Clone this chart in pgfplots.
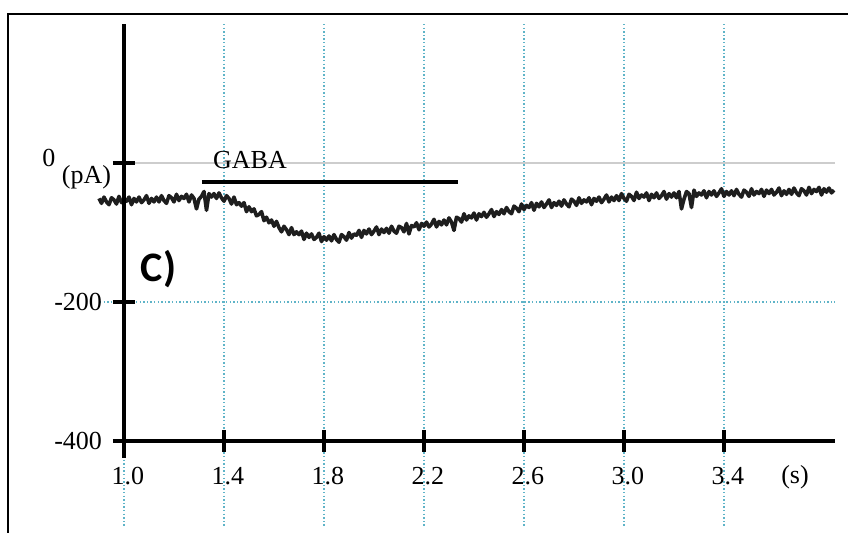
\documentclass[border=0pt]{standalone}
\usepackage{pgfplots}
\pgfplotsset{compat=1.18}
\usepackage{fontspec}
\setmainfont{Liberation Serif}
\newfontfamily\calibri{Carlito}
\definecolor{gridc}{RGB}{95,180,200}
\definecolor{zeroc}{RGB}{205,205,205}
\definecolor{tracec}{RGB}{30,30,30}
\begin{document}
\begin{tikzpicture}
\useasboundingbox (-62pt,-45.5pt) rectangle (362pt,220.5pt);
\draw[line width=1.3pt] (-58pt,-46pt) -- (-58pt,213.5pt) -- (363pt,213.5pt);
\begin{axis}[
  at={(0,0)}, anchor=south west,
  scale only axis, width=355.5pt, height=208.5pt,
  xmin=1, xmax=3.844, ymin=-400, ymax=200,
  axis x line=bottom, axis y line=left,
  axis line style={-, line width=2pt},
  axis on top,
  clip=false,
  xtick={1,1.4,1.8,2.2,2.6,3,3.4},
  xticklabels={1.0,1.4,1.8,2.2,2.6,3.0,3.4},
  ytick={-400,-200,0}, yticklabels={-400,-200,{}},
  tick align=center, major tick length=11pt,
  tick style={line width=2pt,black},
  ticklabel style={font=\fontsize{13}{15}\selectfont},
  xticklabel style={yshift=-4pt,xshift=2pt},
  yticklabel style={xshift=-2pt},
]
\pgfplotsinvokeforeach{1,1.4,1.8,2.2,2.6,3,3.4}{
  \draw[gridc, line width=0.7pt, dash pattern=on 0.7pt off 1.1pt] (axis cs:#1,200) -- (axis cs:#1,-524);
}
\draw[zeroc, line width=0.8pt] (axis cs:1,0) -- (axis cs:3.844,0);
\draw[gridc, line width=0.7pt, dash pattern=on 0.7pt off 1.1pt] (axis cs:0.904,-200) -- (axis cs:3.844,-200);

% GABA application bar
\addplot[black, line width=2pt] coordinates {(1.312,-27) (2.336,-27)};

% current trace
\addplot[tracec, line width=1.8pt, line join=round] coordinates {
(0.90,-51) (0.91,-58) (0.92,-49) (0.93,-56) (0.94,-60) (0.95,-50) (0.96,-53) (0.97,-59) (0.98,-48) (0.99,-57)
(1.00,-52) (1.01,-55) (1.02,-49) (1.03,-60) (1.04,-51) (1.05,-56) (1.06,-49) (1.07,-57) (1.08,-53) (1.09,-47)
(1.10,-58) (1.11,-51) (1.12,-56) (1.13,-49) (1.14,-56) (1.15,-47) (1.16,-54) (1.17,-58) (1.18,-47) (1.19,-50)
(1.20,-56) (1.21,-45) (1.22,-54) (1.23,-48) (1.24,-51) (1.25,-45) (1.26,-56) (1.27,-46) (1.28,-51) (1.29,-66)
(1.30,-52) (1.31,-48) (1.32,-41) (1.33,-68) (1.34,-44) (1.35,-49) (1.36,-44) (1.37,-51) (1.38,-43) (1.39,-50)
(1.40,-55) (1.41,-47) (1.42,-51) (1.43,-59) (1.44,-49) (1.45,-60) (1.46,-57) (1.47,-62) (1.48,-57) (1.49,-70)
(1.50,-63) (1.51,-70) (1.52,-66) (1.53,-76) (1.54,-74) (1.55,-70) (1.56,-83) (1.57,-78) (1.58,-86) (1.59,-82)
(1.60,-91) (1.61,-84) (1.62,-93) (1.63,-99) (1.64,-91) (1.65,-96) (1.66,-103) (1.67,-93) (1.68,-103) (1.69,-99)
(1.70,-103) (1.71,-98) (1.72,-110) (1.73,-101) (1.74,-107) (1.75,-102) (1.76,-110) (1.77,-107) (1.78,-101) (1.79,-113)
(1.80,-106) (1.81,-111) (1.82,-105) (1.83,-112) (1.84,-103) (1.85,-110) (1.86,-114) (1.87,-103) (1.88,-106) (1.89,-111)
(1.90,-100) (1.91,-108) (1.92,-102) (1.93,-104) (1.94,-97) (1.95,-107) (1.96,-97) (1.97,-102) (1.98,-95) (1.99,-103)
(2.00,-98) (2.01,-92) (2.02,-103) (2.03,-95) (2.04,-100) (2.05,-94) (2.06,-101) (2.07,-91) (2.08,-98) (2.09,-101)
(2.10,-91) (2.11,-93) (2.12,-99) (2.13,-87) (2.14,-102) (2.15,-90) (2.16,-92) (2.17,-86) (2.18,-96) (2.19,-87)
(2.20,-91) (2.21,-85) (2.22,-92) (2.23,-88) (2.24,-81) (2.25,-92) (2.26,-84) (2.27,-89) (2.28,-82) (2.29,-89)
(2.30,-79) (2.31,-85) (2.32,-97) (2.33,-78) (2.34,-80) (2.35,-85) (2.36,-73) (2.37,-82) (2.38,-76) (2.39,-79)
(2.40,-72) (2.41,-82) (2.42,-73) (2.43,-77) (2.44,-71) (2.45,-78) (2.46,-73) (2.47,-67) (2.48,-77) (2.49,-70)
(2.50,-74) (2.51,-67) (2.52,-73) (2.53,-64) (2.54,-70) (2.55,-73) (2.56,-62) (2.57,-65) (2.58,-70) (2.59,-59)
(2.60,-67) (2.61,-61) (2.62,-64) (2.63,-57) (2.64,-68) (2.65,-58) (2.66,-63) (2.67,-56) (2.68,-64) (2.69,-59)
(2.70,-53) (2.71,-64) (2.72,-57) (2.73,-61) (2.74,-55) (2.75,-62) (2.76,-53) (2.77,-59) (2.78,-63) (2.79,-52)
(2.80,-55) (2.81,-61) (2.82,-50) (2.83,-58) (2.84,-53) (2.85,-56) (2.86,-50) (2.87,-60) (2.88,-51) (2.89,-55)
(2.90,-49) (2.91,-57) (2.92,-52) (2.93,-46) (2.94,-56) (2.95,-49) (2.96,-54) (2.97,-47) (2.98,-54) (2.99,-44)
(3.00,-51) (3.01,-55) (3.02,-45) (3.03,-48) (3.04,-54) (3.05,-42) (3.06,-51) (3.07,-46) (3.08,-49) (3.09,-43)
(3.10,-54) (3.11,-45) (3.12,-50) (3.13,-43) (3.14,-51) (3.15,-47) (3.16,-41) (3.17,-52) (3.18,-44) (3.19,-49)
(3.20,-43) (3.21,-50) (3.22,-41) (3.23,-66) (3.24,-52) (3.25,-41) (3.26,-44) (3.27,-64) (3.28,-39) (3.29,-48)
(3.30,-43) (3.31,-46) (3.32,-40) (3.33,-50) (3.34,-41) (3.35,-46) (3.36,-40) (3.37,-48) (3.38,-43) (3.39,-37)
(3.40,-48) (3.41,-41) (3.42,-46) (3.43,-40) (3.44,-47) (3.45,-38) (3.46,-45) (3.47,-49) (3.48,-39) (3.49,-42)
(3.50,-48) (3.51,-37) (3.52,-46) (3.53,-41) (3.54,-44) (3.55,-38) (3.56,-48) (3.57,-39) (3.58,-44) (3.59,-38)
(3.60,-46) (3.61,-42) (3.62,-36) (3.63,-47) (3.64,-40) (3.65,-45) (3.66,-38) (3.67,-45) (3.68,-36) (3.69,-43)
(3.70,-47) (3.71,-37) (3.72,-40) (3.73,-46) (3.74,-35) (3.75,-44) (3.76,-38) (3.77,-41) (3.78,-35) (3.79,-46)
(3.80,-37) (3.81,-42) (3.82,-36) (3.83,-43) (3.84,-39)
};

\draw[line width=2pt] (axis cs:1,-400) -- (axis cs:1,-425);
\node[font=\fontsize{13}{15}\selectfont] at (axis cs:1.504,3.6) {GABA};
\node[font=\fontsize{13}{15}\selectfont] at (axis cs:0.70,7) {0};
\node[font=\fontsize{13}{15}\selectfont] at (axis cs:0.85,-20) {(pA)};
\node[font=\fontsize{13}{15}\selectfont] at (axis cs:3.684,-452) {(s)};
\node[font=\calibri\bfseries\fontsize{21}{25}\selectfont] at (axis cs:1.138,-152) {C)};
\end{axis}
\end{tikzpicture}
\end{document}
